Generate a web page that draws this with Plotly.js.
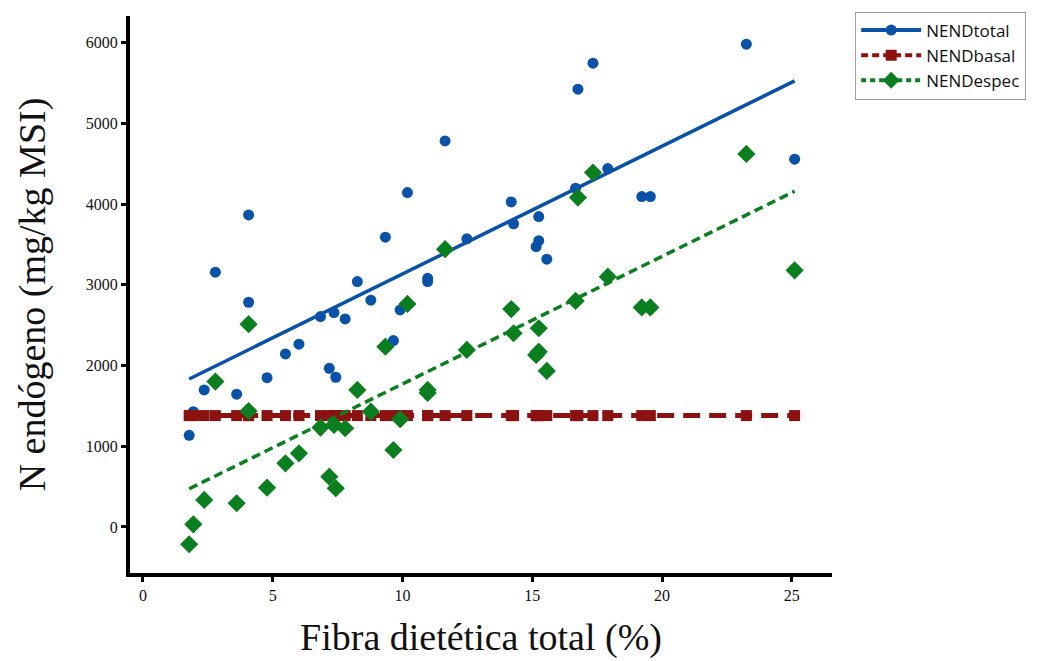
<!DOCTYPE html>
<html>
<head>
<meta charset="utf-8">
<script src="https://cdn.plot.ly/plotly-3.0.1.min.js"></script>
<style>html,body{margin:0;padding:0;background:#fff;}#chart{width:1040px;height:661px;}</style>
</head>
<body>
<div id="chart"></div>
<script>
// Fibra dietética total (%)
const fibra = [1.78, 1.94, 2.36, 2.79, 3.61, 4.07, 4.07, 4.78, 5.49, 6.01, 6.84, 7.18, 7.36, 7.43, 7.79, 8.26, 8.78, 9.34, 9.65, 9.91, 10.19, 10.97, 10.97, 11.64, 12.48, 14.19, 14.28, 15.15, 15.25, 15.25, 15.56, 16.67, 16.76, 17.34, 17.91, 19.22, 19.55, 23.25, 25.11];
// N endógeno (mg/kg MSI)
const nendTotal = [1136, 1429, 1698, 3156, 1645, 2784, 3866, 1850, 2144, 2264, 2606, 1966, 2656, 1855, 2577, 3040, 2810, 3590, 2309, 2689, 4143, 3080, 3040, 4783, 3570, 4027, 3755, 3473, 3547, 3845, 3317, 4197, 5424, 5746, 4440, 4093, 4093, 5981, 4556];
const nendBasal = [1380, 1380, 1380, 1380, 1380, 1380, 1380, 1380, 1380, 1380, 1380, 1380, 1380, 1380, 1380, 1380, 1380, 1380, 1380, 1380, 1380, 1380, 1380, 1380, 1380, 1380, 1380, 1380, 1380, 1380, 1380, 1380, 1380, 1380, 1380, 1380, 1380, 1380, 1380];
const nendEspec = [-214, 33, 335, 1801, 294, 1437, 2512, 487, 789, 913, 1231, 623, 1264, 480, 1223, 1698, 1429, 2234, 954, 1335, 2763, 1698, 1660, 3441, 2193, 2700, 2400, 2131, 2172, 2462, 1933, 2800, 4081, 4390, 3101, 2720, 2720, 4622, 3180];
const seriesNames = ['NENDtotal', 'NENDbasal', 'NENDespec'];

const BLUE = '#0a52a8', RED = '#8c1111', GREEN = '#0b7f20';

function linFit(xs, ys) {
  const n = xs.length;
  let sx = 0, sy = 0, sxx = 0, sxy = 0;
  for (let i = 0; i < n; i++) { sx += xs[i]; sy += ys[i]; sxx += xs[i]*xs[i]; sxy += xs[i]*ys[i]; }
  const b = (n*sxy - sx*sy) / (n*sxx - sx*sx);
  const a = (sy - b*sx) / n;
  const x0 = Math.min(...xs), x1 = Math.max(...xs);
  return {x: [x0, x1], y: [a + b*x0, a + b*x1]};
}
const fitT = linFit(fibra, nendTotal);
const fitE = linFit(fibra, nendEspec);

const traces = [
  {x: fibra, y: nendTotal, mode: 'markers', type: 'scatter', showlegend: false,
   marker: {symbol: 'circle', size: 11, color: BLUE}},
  {x: fitT.x, y: fitT.y, mode: 'lines', type: 'scatter', showlegend: false,
   line: {color: BLUE, width: 3.5}},
  {x: fibra, y: nendBasal, mode: 'lines+markers', type: 'scatter', showlegend: false,
   line: {color: RED, width: 5, dash: '17px,9px'},
   marker: {symbol: 'square', size: 11, color: RED}},
  {x: fibra, y: nendEspec, mode: 'markers', type: 'scatter', showlegend: false,
   marker: {symbol: 'diamond', size: 14, color: GREEN}},
  {x: fitE.x, y: fitE.y, mode: 'lines', type: 'scatter', showlegend: false,
   line: {color: GREEN, width: 3.5, dash: '9px,5px'}},
  // legend entries
  {x: [null], y: [null], name: seriesNames[0], mode: 'lines+markers', type: 'scatter',
   line: {color: BLUE, width: 4}, marker: {symbol: 'circle', size: 11, color: BLUE}},
  {x: [null], y: [null], name: seriesNames[1], mode: 'lines+markers', type: 'scatter',
   line: {color: RED, width: 4, dash: '7px,4px'}, marker: {symbol: 'square', size: 11, color: RED}},
  {x: [null], y: [null], name: seriesNames[2], mode: 'lines+markers', type: 'scatter',
   line: {color: GREEN, width: 4, dash: '5px,4px'}, marker: {symbol: 'diamond', size: 13, color: GREEN}}
];

const tickFont = {family: '"Liberation Serif", "Times New Roman", serif', size: 16, color: '#111'};
const titleFamily = '"Liberation Serif", "Times New Roman", serif';
const layout = {
  width: 1040, height: 661,
  margin: {l: 130, r: 208, t: 16, b: 88, pad: 0},
  paper_bgcolor: '#fff', plot_bgcolor: '#fff',
  showlegend: true,
  legend: {x: 1.033, y: 1.008, xanchor: 'left', yanchor: 'top',
    bordercolor: '#a0a0a0', borderwidth: 1, bgcolor: '#fff',
    itemwidth: 60,
    font: {family: '"Open Sans", "Noto Sans", sans-serif', size: 17, color: '#111'},
    tracegroupgap: 0},
  xaxis: {range: [-0.5, 26.55], tickvals: [0, 5, 10, 15, 20, 25], ticktext: ['0','5','10','15','20','25'],
    showgrid: false, zeroline: false, showline: true, linecolor: '#000', linewidth: 4,
    ticks: 'outside', ticklen: 5, tickwidth: 3, tickcolor: '#000', tickfont: tickFont,
    title: {text: 'Fibra dietética total (%)', standoff: 21,
      font: {family: titleFamily, size: 38, color: '#111'}}},
  yaxis: {range: [-570, 6330], tickvals: [0, 1000, 2000, 3000, 4000, 5000, 6000],
    showgrid: false, zeroline: false, showline: true, linecolor: '#000', linewidth: 4,
    ticks: 'outside', ticklen: 5, tickwidth: 3, tickcolor: '#000', tickfont: tickFont,
    title: {text: 'N endógeno (mg/kg MSI)', standoff: 29,
      font: {family: titleFamily, size: 38, color: '#111'}}}
};

Plotly.newPlot('chart', traces, layout, {displayModeBar: false, staticPlot: true});
</script>
</body>
</html>
